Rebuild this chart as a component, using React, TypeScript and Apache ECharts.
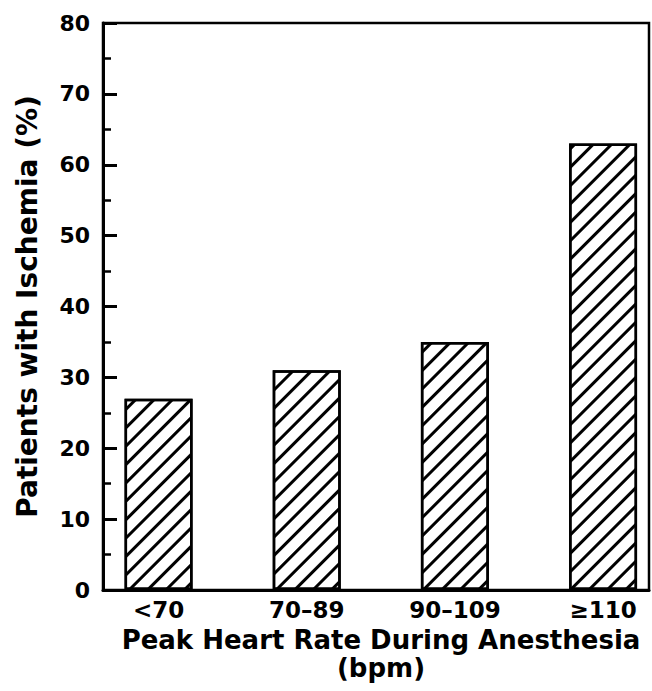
import React, { useEffect, useRef } from "react";
import * as echarts from "echarts";

const categories = ["<70", "70–89", "90–109", "≥110"];
const positions = [1, 2, 3, 4];
const ischemiaPct = [27, 31, 35, 63];
const yTicks = [0, 10, 20, 30, 40, 50, 60, 70, 80];

const FONT = "DejaVu Sans";

export default function App() {
  const ref = useRef<HTMLDivElement>(null);
  useEffect(() => {
    if (!ref.current) return;
    const chart = echarts.init(ref.current, null, { renderer: "svg" });
    chart.setOption({
      animation: false,
      backgroundColor: "#fff",
      grid: {
        left: 103,
        right: 3,
        top: 23,
        bottom: 101,
        containLabel: false,
        outerBoundsMode: "none",
        show: true,
        borderColor: "#000",
        borderWidth: 2.5,
        backgroundColor: "transparent",
      },
      xAxis: {
        type: "value",
        min: 0.625,
        max: 4.31,
        splitLine: { show: false },
        axisLine: { show: true, lineStyle: { color: "#000", width: 3 } },
        axisTick: { show: false },
        axisLabel: {
          customValues: positions,
          formatter: (v: number) => categories[positions.indexOf(Math.round(v))] ?? "",
          color: "#000",
          fontFamily: FONT,
          fontWeight: "bold",
          fontSize: 23,
          margin: 8,
        },
        name: "Peak Heart Rate During Anesthesia\n(bpm)",
        nameLocation: "middle",
        nameGap: 30,
        nameTextStyle: {
          color: "#000",
          fontFamily: FONT,
          fontWeight: "bold",
          fontSize: 26,
          lineHeight: 28,
          verticalAlign: "top",
          padding: [0, 0, 0, 10],
        },
      },
      yAxis: {
        type: "value",
        min: yTicks[0],
        max: yTicks[yTicks.length - 1],
        interval: 10,
        splitLine: { show: false },
        axisLine: { show: true, lineStyle: { color: "#000", width: 3 } },
        axisTick: { show: true, inside: true, length: 14, lineStyle: { color: "#000", width: 3 } },
        minorTick: { show: true, splitNumber: 2, length: 8, lineStyle: { color: "#000", width: 2.5 } },
        axisLabel: {
          color: "#000",
          fontFamily: FONT,
          fontWeight: "bold",
          fontSize: 22,
          margin: 13,
        },
        name: "Patients with Ischemia (%)",
        nameLocation: "middle",
        nameGap: 62,
        nameTextStyle: {
          color: "#000",
          fontFamily: FONT,
          fontWeight: "bold",
          fontSize: 28,
        },
      },
      series: [
        {
          type: "bar",
          data: positions.map((p, i) => [p, ischemiaPct[i]]),
          barWidth: 68,
          itemStyle: {
            color: "#fff",
            borderColor: "#000",
            borderWidth: 2.5,
            decal: {
              symbol: "rect",
              symbolSize: 1,
              color: "#000",
              dashArrayX: [1, 0],
              dashArrayY: [3, 9.5],
              rotation: -Math.PI / 4,
            },
          },
        },
      ],
    });
    return () => chart.dispose();
  }, []);
  return (
    <div
      ref={ref}
      style={{ position: "fixed", left: 0, top: 0, width: 652, height: 691, background: "#fff" }}
    />
  );
}
